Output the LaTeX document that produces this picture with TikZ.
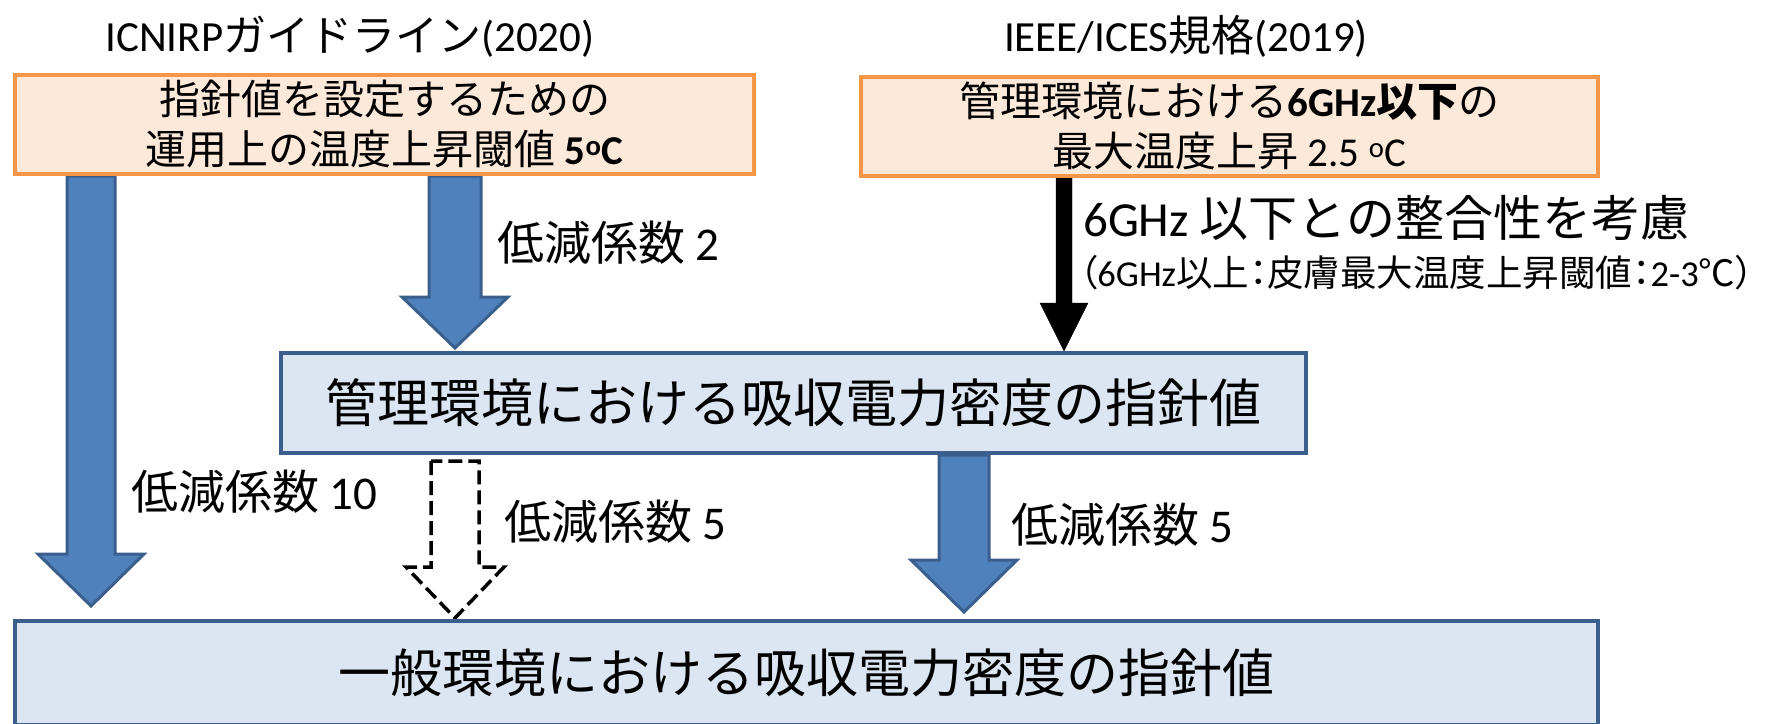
\documentclass[tikz,border=0pt]{standalone}
\usepackage{fontspec}
\setmainfont{Carlito}
\newfontfamily\jp{Noto Sans CJK JP}
\newfontfamily\jpp{Noto Sans CJK JP}[RawFeature=+palt]
\newcommand\ja[1]{{\jp #1}}
\usetikzlibrary{calc,backgrounds}

\definecolor{peach}{HTML}{FDE9D9}
\definecolor{orangeline}{HTML}{F79646}
\definecolor{paleblue}{HTML}{DCE6F2}
\definecolor{darkblue}{HTML}{3A5F8C}
\definecolor{arrowblue}{HTML}{4F81BD}

% block arrow: [style]{from}{tip}{shaft half width}{head half width}{head length}
\newcommand\blockarrow[6][]{%
  \draw[#1] let \p1=(#2), \p2=(#3) in
    (\x1-#4,\y1) -- (\x1-#4,\y2+#6) -- (\x1-#5,\y2+#6) -- (\x1,\y2)
    -- (\x1+#5,\y2+#6) -- (\x1+#4,\y2+#6) -- (\x1+#4,\y1) -- cycle;}

\begin{document}
\begin{tikzpicture}[x=1pt, y=-1pt,
  hdr/.style={font=\fontsize{43}{50}\selectfont, inner sep=0pt},
  srcbox/.style={draw=orangeline, fill=peach, line width=4pt, inner sep=0pt,
    minimum height=99pt, align=center, font=\fontsize{41}{50}\selectfont},
  limbox/.style={draw=darkblue, fill=paleblue, line width=4pt, inner sep=0pt,
    font=\fontsize{52}{60}\selectfont},
  redux/.style={fill=arrowblue, draw=darkblue, line width=3pt},
  lbl/.style={font=\fontsize{47}{56}\selectfont, anchor=west, inner sep=0pt}]

\useasboundingbox (0,0) rectangle (1767,723);

% Titles
\node[hdr] (icnirp) at (350,37) {ICNIRP\ja{ガイドライン}(2020)};
\node[hdr] (ieee) at (1186,36) {IEEE/ICES\ja{規格}(2019)};

% Source boxes
\node[srcbox, minimum width=739pt] (temp) at (384.5,124.5)
  {\ja{指針値を設定するための}\\\ja{運用上の温度上昇閾値} \textbf{5\textsuperscript{o}C}};
\node[srcbox, minimum width=737pt] (rise) at (1229.5,126)
  {\ja{管理環境における}\textbf{6GHz\ja{以下}}\ja{の}\\\ja{最大温度上昇} 2.5 \textsuperscript{o}C};

% Limit boxes
\node[limbox, minimum width=1025pt, minimum height=100pt] (occ) at (793.5,403)
  {\ja{管理環境における吸収電力密度の指針値}};
\node[limbox, minimum width=1583pt, minimum height=104pt] (pub) at (806.5,673)
  {\ja{一般環境における吸収電力密度の指針値}};

% Arrow positions
\coordinate (xa) at (91,0);
\coordinate (xb) at (455,0);
\coordinate (xc) at (1064,0);
\coordinate (xd) at (964,0);

% Arrows
\begin{pgfonlayer}{background}
\blockarrow[redux]{temp.south -| xa}{$(pub.north -| xa)+(0,-13)$}{24pt}{53pt}{52pt}
\blockarrow[redux]{temp.south -| xb}{$(occ.north -| xb)+(0,-3)$}{26pt}{53pt}{51pt}
\blockarrow[fill=black]{rise.south -| xc}{occ.north -| xc}{8pt}{24pt}{48pt}
\blockarrow[draw=black, fill=white, line width=3.5pt, dash pattern=on 14pt off 6pt]{$(occ.south -| xb)+(0,6)$}{$(pub.north -| xb)+(0,-1)$}{24pt}{49pt}{51pt}
\blockarrow[redux]{occ.south -| xd}{$(pub.north -| xd)+(0,-7)$}{25pt}{53pt}{52pt}
\end{pgfonlayer}

% Labels
\node[lbl] (f2) at (497,243) {\ja{低減係数} 2};
\node[lbl] (f10) at (131,492) {\ja{低減係数} 10};
\node[lbl] (f5a) at (504,522) {\ja{低減係数} 5};
\node[lbl] (f5b) at (1011,525) {\ja{低減係数} 5};
\node[lbl, font=\fontsize{49}{56}\selectfont] (match) at (1083,218)
  {6GHz \ja{以下との整合性を考慮}};
\node[lbl, font=\fontsize{36.5}{44}\selectfont] (note) at (1079,273)
  {{\jpp （}6GHz{\jpp 以上：皮膚最大温度上昇閾値：}2-3{\jpp ℃）}};

\end{tikzpicture}
\end{document}
